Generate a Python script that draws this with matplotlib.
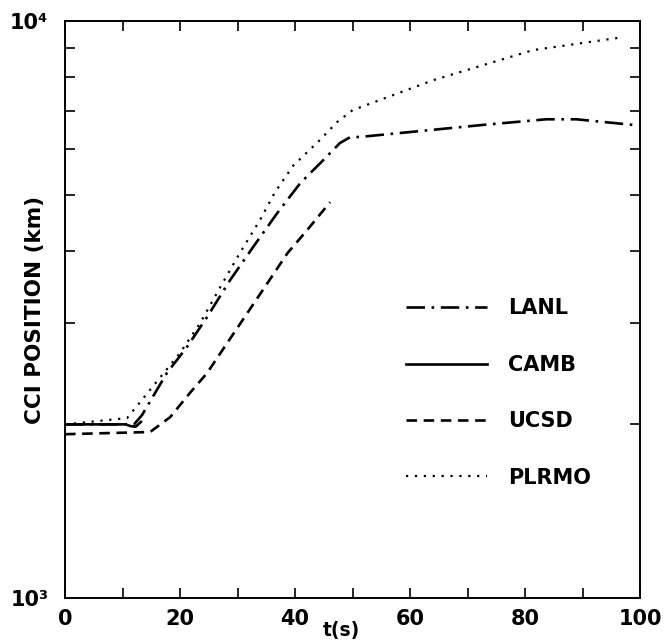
import matplotlib
matplotlib.use("Agg")
import matplotlib.pyplot as plt
from matplotlib.ticker import FixedLocator, NullFormatter

# ==========================
# DATA
# ==========================

lanl_t = [0, 12, 13.4, 17.7, 21.2, 24.7, 28.7, 32.7, 36.9, 40.9, 44.9, 47.8, 49.6, 51.3,
          58.3, 72.7, 83.7, 88.9, 98.8]
lanl_v = [2000, 2000, 2076, 2454, 2723, 3069, 3556, 4058, 4647, 5237, 5741, 6147, 6295, 6300,
          6400, 6610, 6760, 6760, 6610]

camb_t = [0, 10.5, 11.5, 12.3, 13.2]
camb_v = [2000, 2000, 1985, 1982, 2020]

ucsd_t = [0, 14.8, 18.3, 21.7, 24.7, 28.2, 31.7, 35.2, 38.7, 42.1, 46.1]
ucsd_v = [1923, 1940, 2059, 2266, 2454, 2767, 3118, 3514, 3963, 4342, 4856]

plrmo_t = [0, 10.8, 20, 23.5, 27, 30.4, 33.9, 36.5, 39.7, 44.3, 47.3, 50, 64, 81.4, 97]
plrmo_v = [2000, 2051, 2659, 2996, 3459, 3963, 4519, 5050, 5620, 6219, 6683, 7010, 7900, 8910, 9380]

# ==========================
# PLOT
# ==========================

fig = plt.figure(figsize=(6.66, 6.42), dpi=100)
ax = fig.add_axes([0.0976, 0.0685, 0.8634, 0.8985])

font = "DejaVu Sans"

ax.plot(lanl_t, lanl_v, color="black", lw=1.9, linestyle=(0, (7, 2.5, 1, 2.5)), label="LANL")
ax.plot(camb_t, camb_v, color="black", lw=1.9, linestyle="-", label="CAMB")
ax.plot(ucsd_t, ucsd_v, color="black", lw=1.9, linestyle=(0, (4, 2.5)), label="UCSD")
ax.plot(plrmo_t, plrmo_v, color="black", lw=1.6, linestyle=(0, (1, 3)), label="PLRMO")

ax.set_yscale("log")
ax.set_xlim(0, 100)
ax.set_ylim(1000, 10000)

ax.set_xticks([0, 20, 40, 60, 80, 100])
ax.set_xticks([10, 30, 50, 70, 90], minor=True)
ax.set_xticklabels(["0", "20", "40", "60", "80", "100"], family=font,
                   fontsize=15, fontweight="bold")

ax.yaxis.set_major_locator(FixedLocator([1000, 10000]))
ax.yaxis.set_minor_locator(FixedLocator([2000, 3000, 4000, 5000, 6000, 7000, 8000, 9000]))
ax.yaxis.set_minor_formatter(NullFormatter())
ax.set_yticklabels(["10³", "10⁴"], family=font, fontsize=15, fontweight="bold")

ax.tick_params(which="both", direction="in", top=True, right=True,
               length=7.5, width=1.2, pad=8)
ax.tick_params(axis="y", which="major", length=0, pad=12)

for s in ax.spines.values():
    s.set_linewidth(1.4)

ax.set_xlabel("t(s)", family=font, fontsize=13.5, fontweight="bold")
ax.xaxis.set_label_coords(0.48, -0.04)
ax.set_ylabel("CCI POSITION (km)", family=font, fontsize=15.5, fontweight="bold")
ax.yaxis.set_label_coords(-0.035, 0.5)

leg = ax.legend(loc="upper left", bbox_to_anchor=(0.56, 0.552), frameon=False,
                handlelength=3.9, handletextpad=1.0, labelspacing=1.75,
                prop={"family": font, "size": 15, "weight": "bold"})

plt.savefig("out.png", dpi=100)
